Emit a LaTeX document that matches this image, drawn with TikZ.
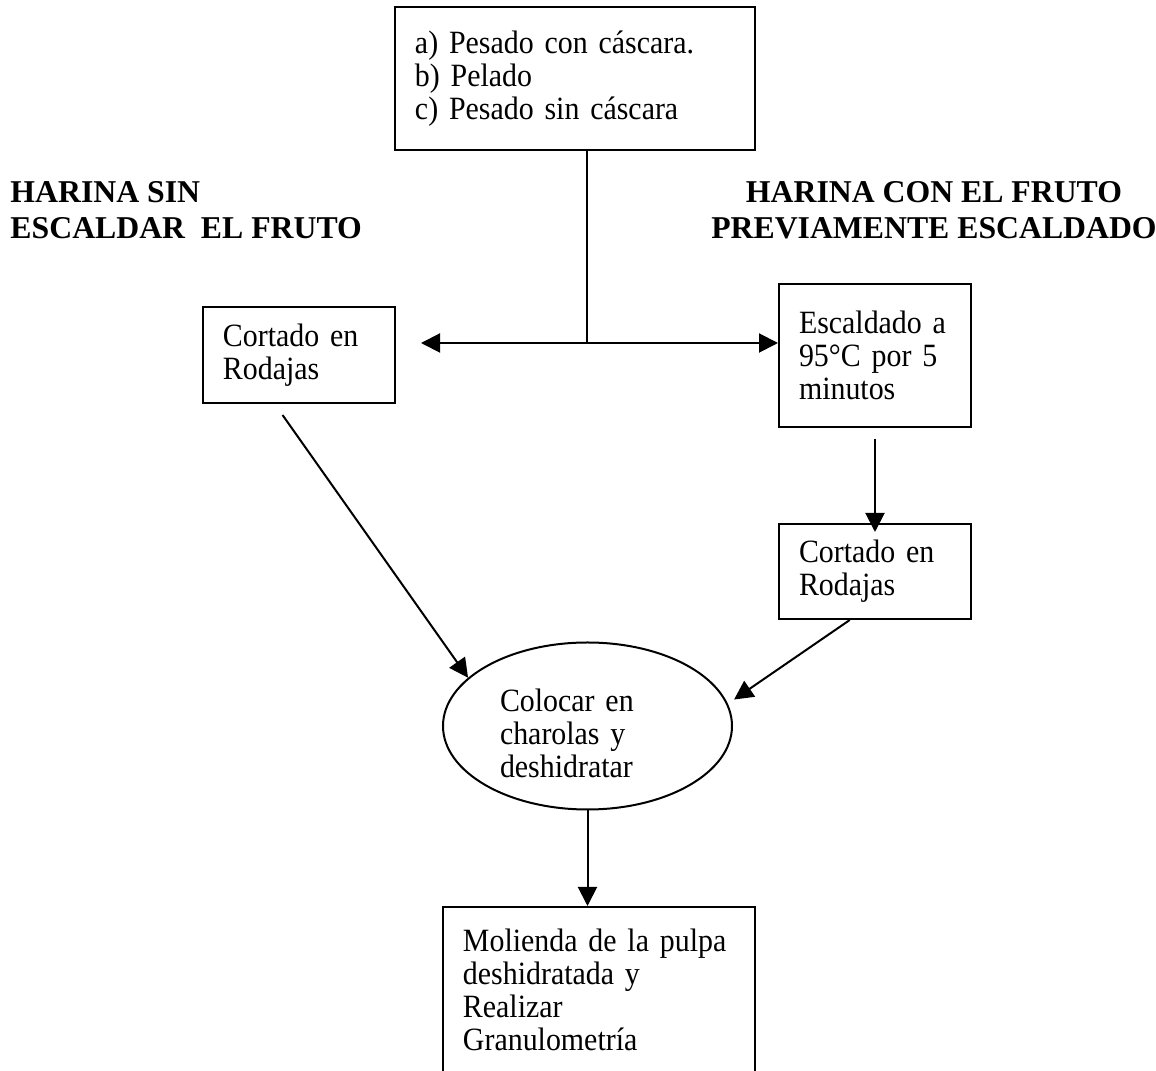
\documentclass[tikz,border=0pt]{standalone}
\usepackage{fontspec}
\setmainfont{Liberation Serif}[FakeStretch=0.92, WordSpace=0.85]
\newfontfamily\headfont{Liberation Serif}
\usetikzlibrary{positioning,arrows.meta,shapes,calc}

\begin{document}
\begin{tikzpicture}[x=0.4pt, y=-0.4pt,
  box/.style={draw, line width=0.8pt, inner xsep=8pt, inner ysep=0pt, align=left,
              font=\fontsize{13}{13.2}\selectfont},
  oval/.style={draw, ellipse, line width=0.8pt, inner sep=0pt, align=left,
               font=\fontsize{13}{13.2}\selectfont},
  title/.style={inner sep=0pt, font=\headfont\bfseries\fontsize{12.7}{14.4}\selectfont},
  arrow/.style={-{Triangle[length=7.6pt, width=7.6pt]}, line width=0.8pt}
]
  \useasboundingbox (0,0) rectangle (1156,1071);

  \node[box, minimum width=144pt, minimum height=57.2pt, text width=128pt] (pasos) at (575,78.5)
    {a) Pesado con cáscara.\\ b) Pelado\\ c) Pesado sin cáscara};
  \node[title, anchor=west, align=left] (sinEscaldar) at (10,210) {HARINA SIN\\ ESCALDAR\ \ EL FRUTO};
  \node[title, align=center] (conEscaldado) at (934,210) {HARINA CON EL FRUTO\\ PREVIAMENTE ESCALDADO};
  \node[box, minimum width=76.8pt, minimum height=38.4pt, text width=60.8pt] (rodajasSin) at (299,355)
    {Cortado en\\ Rodajas};
  \node[box, minimum width=76.8pt, minimum height=57.2pt, text width=60.8pt] (escaldado) at (875,355.5)
    {Escaldado a\\ 95°C por 5\\ minutos};
  \node[box, minimum width=76.8pt, minimum height=38pt, text width=60.8pt] (rodajasCon) at (875,571.5)
    {Cortado en\\ Rodajas};
  \node[oval, minimum width=115.6pt, minimum height=66.8pt, text width=70pt, text height=15pt] (deshidratar)
    at (587.5,726) {Colocar en\\ charolas y\\ deshidratar};
  \node[box, minimum width=124.8pt, minimum height=66.4pt, text width=108.8pt] (molienda) at (599,990)
    {Molienda de la pulpa\\ deshidratada y\\ Realizar\\ Granulometría};

  \coordinate (split) at (587,343);
  \draw[line width=0.8pt] (split |- pasos.south) -- (split);
  \draw[arrow, shorten >=10pt] (split) -- (split -| rodajasSin.east);
  \draw[arrow] (split) -- (split -| escaldado.west);
  \draw[arrow, shorten <=4.4pt] (escaldado.south) -- ([yshift=-3.6pt]rodajasCon.north);
  \draw[arrow, shorten <=5.4pt] ($(rodajasSin.south west)!0.375!(rodajasSin.south east)$) -- (deshidratar.158);
  \draw[arrow, shorten >=3pt] ($(rodajasCon.south west)!0.37!(rodajasCon.south east)$) -- (deshidratar.9);
  \draw[arrow] (deshidratar.south) -- (deshidratar.south |- molienda.north);
\end{tikzpicture}
\end{document}
